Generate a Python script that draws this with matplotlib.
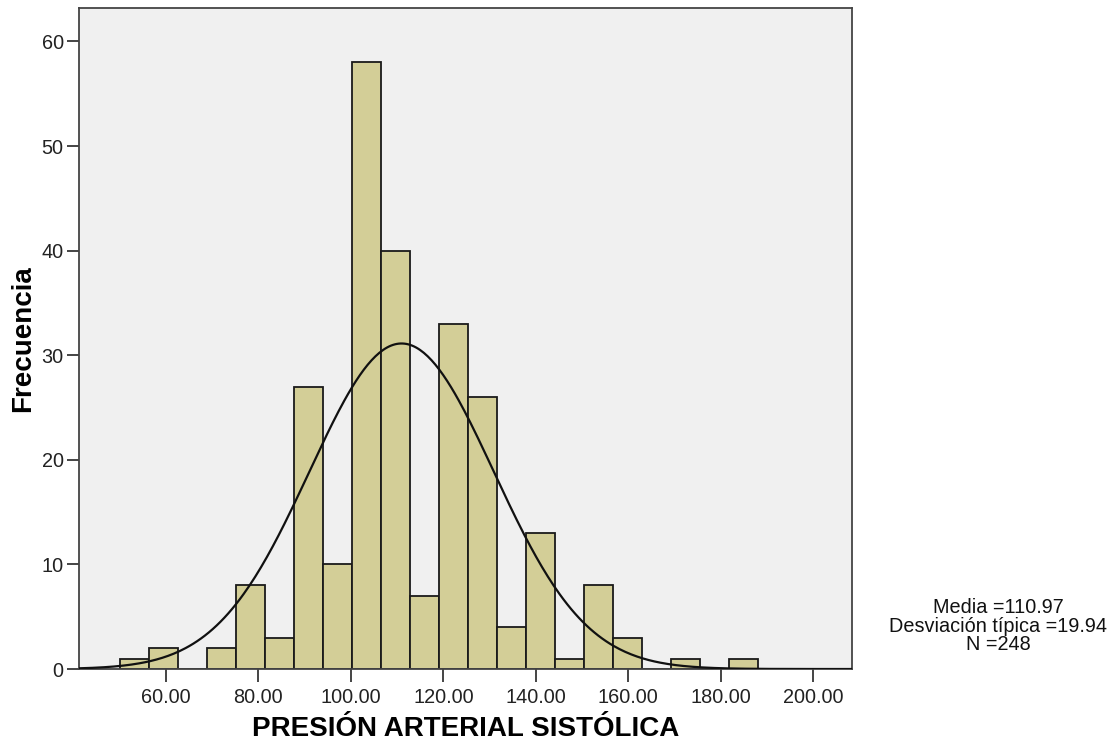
import numpy as np
import matplotlib
matplotlib.use("Agg")
import matplotlib.pyplot as plt

# histogram counts of systolic pressure, 22 equal bins from 50 to 188
counts = [1, 2, 0, 2, 8, 3, 27, 10, 58, 40, 7, 33, 26, 4, 13, 1, 8, 3, 0, 1, 0, 1]
bin_lo, bin_hi = 50.0, 188.0

# summary statistics
mean = 110.97
sd = 19.94
n = 248

xticks = [60, 80, 100, 120, 140, 160, 180, 200]
yticks = [0, 10, 20, 30, 40, 50, 60]

plt.rcParams["font.family"] = ["Liberation Sans", "DejaVu Sans"]

fig = plt.figure(figsize=(11.13, 7.48), dpi=100)
ax = fig.add_axes([0.071, 0.1056, 0.6945, 0.8837])
ax.set_facecolor("#f0f0f0")

edges = np.linspace(bin_lo, bin_hi, len(counts) + 1)
width = edges[1] - edges[0]
ax.bar(edges[:-1], counts, width=width, align="edge",
       color="#d3ce97", edgecolor="#1a1a1a", linewidth=1.3, zorder=2)

# normal curve scaled to the histogram
xlo, xhi = 41.2, 208.4
xs = np.linspace(xlo, xhi, 400)
ys = n * width / (sd * np.sqrt(2 * np.pi)) * np.exp(-0.5 * ((xs - mean) / sd) ** 2)
ax.plot(xs, ys, color="#111111", linewidth=1.6, zorder=3)

ax.set_xlim(xlo, xhi)
ax.set_ylim(0, 63.2)
ax.set_xticks(xticks)
ax.set_xticklabels([f"{v:.2f}" for v in xticks])
ax.set_yticks(yticks)

for sp in ax.spines.values():
    sp.set_color("#444444")
    sp.set_linewidth(1.3)
ax.tick_params(axis="both", direction="out", length=9, width=1.4,
               color="#444444", labelsize=14.3, labelcolor="#222222")
ax.tick_params(axis="x", pad=5)
ax.tick_params(axis="y", pad=2)

ax.set_xlabel("PRESIÓN ARTERIAL SISTÓLICA", fontsize=20, fontweight="bold",
              labelpad=6)
ax.set_ylabel("Frecuencia", fontsize=20, fontweight="bold", labelpad=4)

# statistics box at the right
fig.text(0.8967, 0.1631,
         f"Media ={mean:.2f}\nDesviación típica ={sd:.2f}\nN ={n}",
         ha="center", va="center", fontsize=14.3, linespacing=0.95,
         color="#111111")

fig.savefig("out.png", dpi=100)
